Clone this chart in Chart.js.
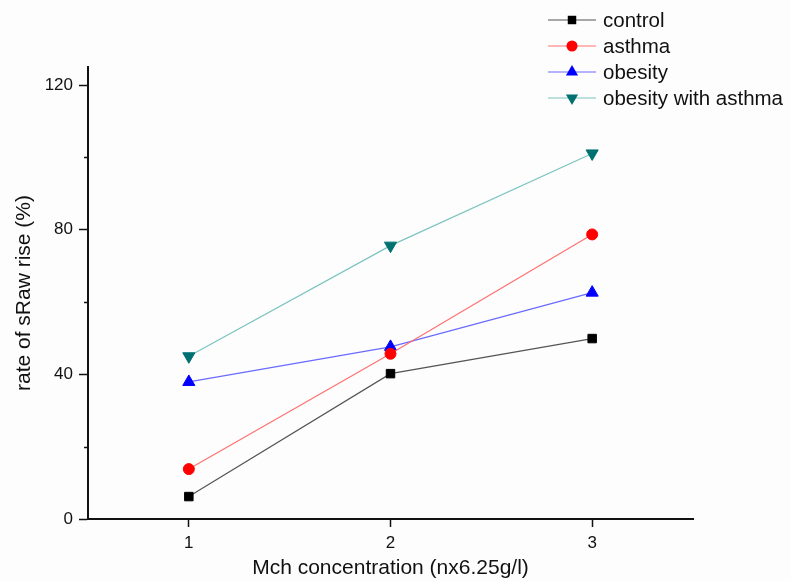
<!DOCTYPE html>
<html>
<head>
<meta charset="utf-8">
<script src="https://cdn.jsdelivr.net/npm/chart.js@4.4.0/dist/chart.umd.min.js"></script>
<style>
  html, body { margin: 0; padding: 0; background: #fdfdfd; }
  #wrap { width: 791px; height: 581px; position: relative; }
</style>
</head>
<body>
<div id="wrap"><canvas id="chart"></canvas></div>
<script>
// data
const concentrations = [1, 2, 3];
const controlVals = [6.2, 40.2, 49.9];
const asthmaVals = [13.8, 45.7, 78.7];
const obesityVals = [37.9, 47.6, 62.6];
const obeseAsthmaVals = [45.0, 75.6, 101.1];
const seriesNames = ['control', 'asthma', 'obesity', 'obesity with asthma'];
const yMajorTicks = [0, 40, 80, 120];
const yMinorTicks = [20, 60, 100];
const xTicks = [1, 2, 3];

const FONT = '"Liberation Sans", Arial, sans-serif';

function makeSeries(label, vals, lineColor, markColor, style, rot, radius) {
    return {
        label: label,
        data: concentrations.map((x, i) => ({ x: x, y: vals[i] })),
        showLine: true,
        borderColor: lineColor,
        borderWidth: 1.2,
        pointStyle: style,
        rotation: rot,
        pointRadius: radius,
        pointBackgroundColor: markColor,
        pointBorderColor: markColor,
        pointBorderWidth: 1,
        clip: false
    };
}

const datasets = [
    makeSeries(seriesNames[0], controlVals, '#555555', '#000000', 'rect', 0, 6),
    makeSeries(seriesNames[1], asthmaVals, '#ff7070', '#ff0000', 'circle', 0, 5.5),
    makeSeries(seriesNames[2], obesityVals, '#6a6aff', '#0000ff', 'triangle', 0, 7),
    makeSeries(seriesNames[3], obeseAsthmaVals, '#7cc4c0', '#007070', 'triangle', 180, 7)
];

// minor ticks on y + legend drawn by hand (line with marker in the middle)
const extras = {
    id: 'extras',
    afterDraw(chart) {
        const ctx = chart.ctx;
        const y = chart.scales.y;
        const left = chart.chartArea.left;
        ctx.save();
        ctx.strokeStyle = '#111';
        ctx.lineWidth = 1.5;
        yMinorTicks.forEach(v => {
            const py = Math.round(y.getPixelForValue(v)) + 0.5;
            ctx.beginPath();
            ctx.moveTo(left - 4, py);
            ctx.lineTo(left, py);
            ctx.stroke();
        });

        // legend
        ctx.font = '20.5px ' + FONT;
        ctx.textBaseline = 'middle';
        chart.data.datasets.forEach((ds, i) => {
            const ly = 20 + i * 26;
            ctx.strokeStyle = ds.borderColor;
            ctx.lineWidth = 1.2;
            ctx.beginPath();
            ctx.moveTo(548, ly);
            ctx.lineTo(596, ly);
            ctx.stroke();
            ctx.fillStyle = ds.pointBackgroundColor;
            ctx.beginPath();
            drawMarker(ctx, ds.pointStyle, ds.rotation, ds.pointRadius, 572, ly);
            ctx.fill();
            ctx.fillStyle = '#111';
            ctx.fillText(ds.label, 603, ly + 1);
        });
        ctx.restore();
    }
};

function drawMarker(ctx, style, rot, r, x, y) {
    if (style === 'circle') {
        ctx.arc(x, y, r, 0, Math.PI * 2);
    } else if (style === 'rect') {
        const s = r * Math.SQRT1_2;
        ctx.rect(x - s, y - s, s * 2, s * 2);
    } else {
        const d = rot === 180 ? -1 : 1;
        ctx.moveTo(x, y - d * r);
        ctx.lineTo(x + r * 0.87, y + d * r * 0.5);
        ctx.lineTo(x - r * 0.87, y + d * r * 0.5);
        ctx.closePath();
    }
}

new Chart(document.getElementById('chart'), {
    type: 'scatter',
    data: { datasets: datasets },
    plugins: [extras],
    options: {
        responsive: true,
        maintainAspectRatio: false,
        animation: false,
        layout: { padding: { top: 67, right: 98, left: 0, bottom: 0 } },
        plugins: {
            legend: { display: false },
            tooltip: { enabled: false }
        },
        scales: {
            x: {
                type: 'linear',
                min: 0.5,
                max: 3.5,
                afterBuildTicks: s => { s.ticks = xTicks.map(v => ({ value: v })); },
                afterFit: s => { s.height = 62; },
                border: { color: '#111', width: 2 },
                grid: { drawOnChartArea: false, tickLength: 8, tickColor: '#111', tickWidth: 1.5 },
                ticks: { color: '#111', font: { family: FONT, size: 17 }, padding: 6 },
                title: {
                    display: true,
                    text: 'Mch concentration (nx6.25g/l)',
                    color: '#111',
                    font: { family: FONT, size: 21 },
                    padding: { top: 4, bottom: 0 }
                }
            },
            y: {
                min: 0,
                max: 125,
                afterBuildTicks: s => { s.ticks = yMajorTicks.map(v => ({ value: v })); },
                afterFit: s => { s.width = 88; },
                border: { color: '#111', width: 2 },
                grid: { drawOnChartArea: false, tickLength: 9, tickColor: '#111', tickWidth: 1.5 },
                ticks: { color: '#111', font: { family: FONT, size: 17 }, padding: 6 },
                title: {
                    display: true,
                    text: 'rate of sRaw rise (%)',
                    color: '#111',
                    font: { family: FONT, size: 21 },
                    padding: { top: 12, bottom: 0 }
                }
            }
        }
    }
});
</script>
</body>
</html>
